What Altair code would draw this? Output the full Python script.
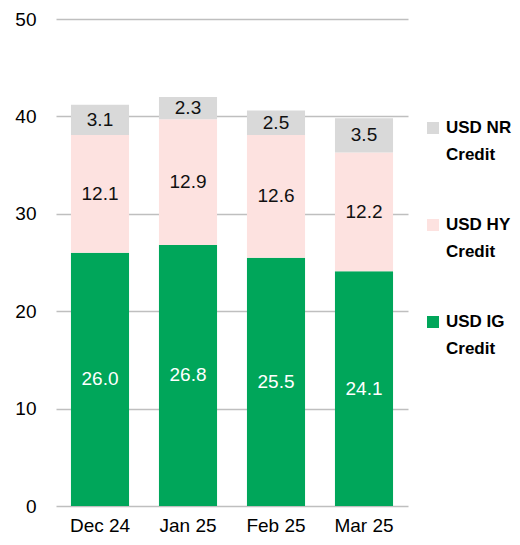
import altair as alt
import pandas as pd

months = ["Dec 24", "Jan 25", "Feb 25", "Mar 25"]
series = ["USD IG Credit", "USD HY Credit", "USD NR Credit"]
ig = [26.0, 26.8, 25.5, 24.1]
hy = [12.1, 12.9, 12.6, 12.2]
nr = [3.1, 2.3, 2.5, 3.5]
colors = ["#00A65A", "#FDE2E0", "#D9D9D9"]

rows = []
for i, m in enumerate(months):
    for k, (s, vals) in enumerate(zip(series, [ig, hy, nr])):
        rows.append({"month": m, "series": s, "value": vals[i], "order": k})
df = pd.DataFrame(rows)

FONT = "Liberation Sans"
color_scale = alt.Scale(domain=series, range=colors)

base = alt.Chart(df).transform_stack(
    stack="value", groupby=["month"], as_=["y0", "y1"],
    sort=[alt.SortField("order", order="ascending")]
).transform_calculate(mid="(datum.y0 + datum.y1) / 2")

x_enc = alt.X("month:N", sort=months,
              scale=alt.Scale(paddingInner=0.34, paddingOuter=0.17),
              axis=alt.Axis(title=None, labelAngle=0, domain=False, ticks=False,
                            labelFontSize=19, labelFont=FONT, labelColor="#000000",
                            labelPadding=10))

bars = base.mark_bar().encode(
    x=x_enc,
    y=alt.Y("y0:Q", scale=alt.Scale(domain=[0, 50], nice=False),
            axis=alt.Axis(title=None, values=[0, 10, 20, 30, 40, 50], grid=True,
                          gridColor="#BFBFBF", gridWidth=1.5, domain=False, ticks=False,
                          labelFontSize=19, labelFont=FONT, labelColor="#000000",
                          labelPadding=20)),
    y2="y1:Q",
    color=alt.Color("series:N", scale=color_scale, legend=None),
)

labels = base.mark_text(font=FONT, fontSize=19, baseline="middle").encode(
    x=x_enc,
    y="mid:Q",
    text=alt.Text("value:Q", format=".1f"),
    color=alt.condition(alt.datum.series == "USD IG Credit", alt.value("#FFFFFF"), alt.value("#111111")),
)

main = alt.layer(bars, labels).properties(width=352, height=487)

leg_order = ["USD NR Credit", "USD HY Credit", "USD IG Credit"]
leg_df = pd.DataFrame({
    "series": leg_order,
    "idx": list(range(len(leg_order))),
    "line1": [s.rsplit(" ", 1)[0] for s in leg_order],
    "line2": [s.rsplit(" ", 1)[1] for s in leg_order],
})
leg_y = alt.Y("idx:Q", scale=alt.Scale(domain=[0, 2], range=[109, 303], nice=False, zero=False), axis=None)
leg_base = alt.Chart(leg_df).encode(y=leg_y)
sym = leg_base.mark_square(size=144, opacity=1).encode(
    x=alt.value(15), color=alt.Color("series:N", scale=color_scale, legend=None))
t1 = leg_base.mark_text(align="left", baseline="middle", font=FONT, fontSize=17,
                        fontWeight="bold", color="#000000").encode(x=alt.value(28), text="line1:N")
t2 = leg_base.mark_text(align="left", baseline="middle", font=FONT, fontSize=17,
                        fontWeight="bold", color="#000000", dy=27).encode(x=alt.value(28), text="line2:N")
legend = alt.layer(sym, t1, t2).properties(width=100, height=487)

chart = alt.hconcat(main, legend, spacing=10).properties(
    padding={"left": 14, "top": 10, "right": 0, "bottom": 0}
).configure(background="#FFFFFF").configure_view(stroke=None)

chart.save("out.html", embed_options={"renderer": "svg", "actions": False})
